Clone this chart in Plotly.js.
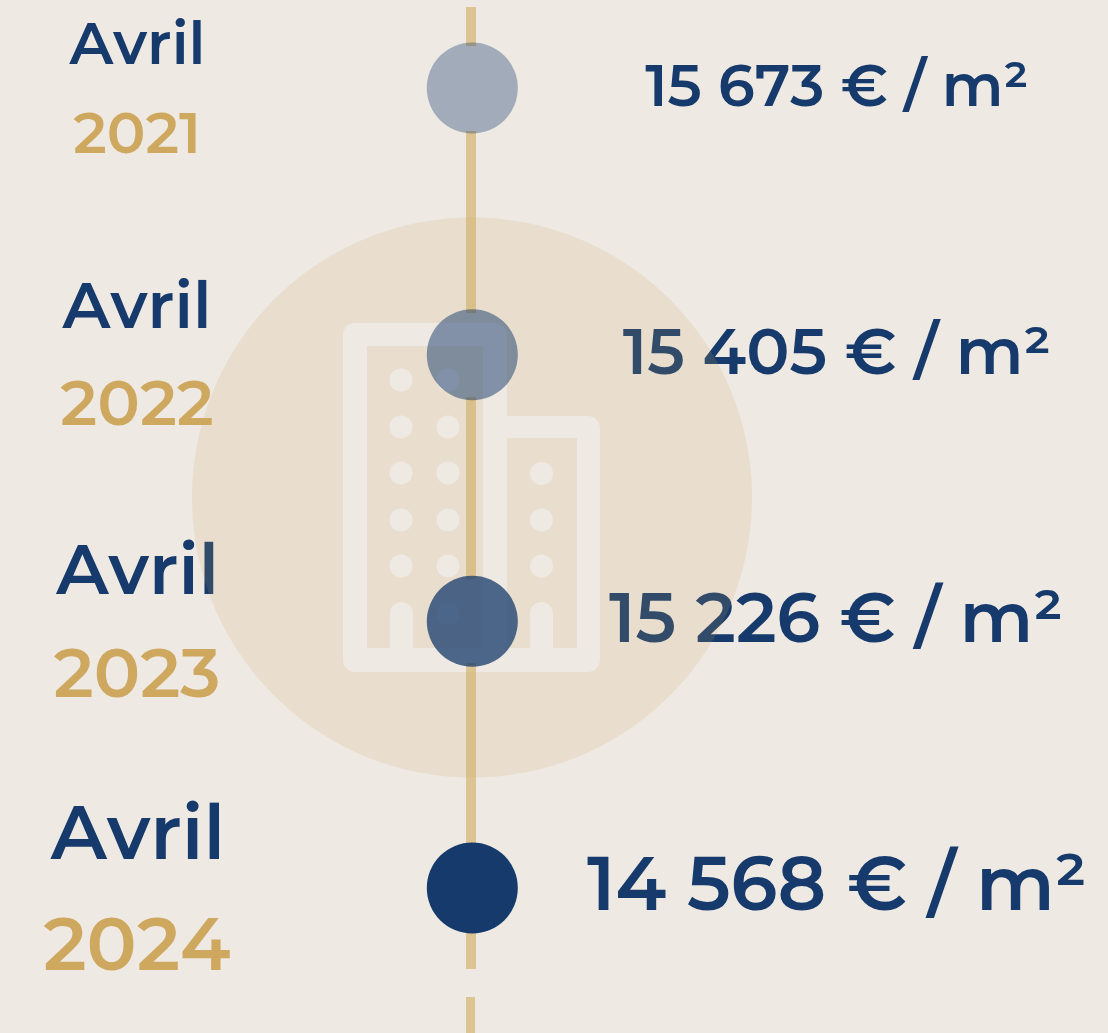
<!DOCTYPE html>
<html><head><meta charset="utf-8">
<script src="https://cdn.plot.ly/plotly-3.0.1.min.js"></script>
<style>html,body{margin:0;padding:0;background:#efe9e3;overflow:hidden} svg text{font-kerning:none} .js-fill{fill-rule:evenodd}</style>
</head><body><div id="c" style="width:1108px;height:1033px"></div>
<script>
const months = ["Avril","Avril","Avril","Avril"];
const years = [2021,2022,2023,2024];
const priceValues = [15673,15405,15226,14568];
const priceLabels = ["15 673 € / m²","15 405 € / m²","15 226 € / m²","14 568 € / m²"];
const dotOpacity = [0.35,0.5,0.75,1];

const W=1108,H=1033,FONT='Montserrat, Inter, "Noto Sans", sans-serif';
const NAVY='#153a6b',GOLD='#cfa860',BG='#efe9e3',OVERLAY='rgba(207,168,96,0.16)',LINE='#dcc493';
const px=v=>v/W, py=v=>1-v/H;
const perYear=(888-88)/3;
const yOf=p=>2021+(p-88)/perYear;
const paper={xref:'paper',yref:'paper',line:{width:0}};
function rect(x0,y0,x1,y1,fill){return {...paper,layer:'below',type:'rect',x0:px(x0),x1:px(x1),y0:py(y0),y1:py(y1),fillcolor:fill};}

// decorative disc with the building cut out of it
const outX=[],outY=[];
function addPoly(pts){pts.forEach(([x,y])=>{outX.push(x);outY.push(yOf(y));});outX.push(null);outY.push(null);}
function arc(cx,cy,r,a0,a1,n){const p=[];for(let i=0;i<=n;i++){const a=(a0+(a1-a0)*i/n)*Math.PI/180;p.push([cx+r*Math.cos(a),cy+r*Math.sin(a)]);}return p;}
addPoly(arc(472,497.5,280,0,360,240));
addPoly([].concat(
  arc(355,335,12,180,270,6),arc(495,335,12,270,360,6),[[507,416]],
  arc(588,428,12,270,360,6),arc(588,660,12,0,90,6),arc(355,660,12,90,180,6)));
addPoly([[367,346],[483,346],[483,648],[367,648]]);
addPoly([[507,438],[577,438],[577,648],[507,648]]);
[[401,[380,427,473,520,566]],[448,[380,427,473,520,566,614]],[541.5,[473.5,520,566]]].forEach(([x,ys])=>ys.forEach(y=>addPoly(arc(x,y,11.5,0,360,32))));
[401.5,541.5].forEach(x=>addPoly([[x-11.5,648]].concat(arc(x,613.5,11.5,180,360,16),[[x+11.5,648]])));
const overlay={type:'scatter',mode:'none',x:outX,y:outY,fill:'toself',fillcolor:OVERLAY,line:{width:0,simplify:false},connectgaps:false,cliponaxis:false,hoverinfo:'skip'};

const shapes=[];
[[7,46],[131,313],[397,579],[663,846],[930,969]].forEach(([a,b])=>shapes.push(rect(466,a,476,b,LINE)));
shapes.push(rect(466,997,475,1033,LINE));

const monthFont=[58.5,64,70,75], yearFont=[57.6,63.4,69,74.5], priceFont=[58.6,64.3,69.7,74.8];
const monthX=[137.5,137,137.5,138];
const monthY=[49,312,576,840], yearY=[138.5,409.5,680,951], priceY=[91,358,624.5,891], priceX=[837,837,836,837];
function textTrace(text,xs,ys,size,color){return {type:'scatter',mode:'text',x:xs,y:ys.map(yOf),text,textposition:'middle center',cliponaxis:false,
  textfont:{family:FONT,size,color,weight:600},hoverinfo:'skip'};}
const dots={type:'scatter',mode:'markers',x:years.map(()=>472.3),y:years,customdata:priceValues,
  marker:{size:91,color:NAVY,opacity:dotOpacity,line:{width:0}},hoverinfo:'skip'};
const data=[
  textTrace(months,monthX,monthY,monthFont,NAVY),
  textTrace(years.map(String),years.map(()=>137),yearY,yearFont,GOLD),
  textTrace(priceLabels,priceX,priceY,priceFont,NAVY),
  overlay,dots];
Plotly.newPlot('c',data,{
  width:W,height:H,margin:{l:0,r:0,t:0,b:0},paper_bgcolor:BG,plot_bgcolor:BG,showlegend:false,
  xaxis:{range:[0,W],visible:false,fixedrange:true},
  yaxis:{range:[2021+(H-88)/perYear,2021-88/perYear],visible:false,fixedrange:true},
  shapes
},{displayModeBar:false,staticPlot:true});
</script></body></html>
